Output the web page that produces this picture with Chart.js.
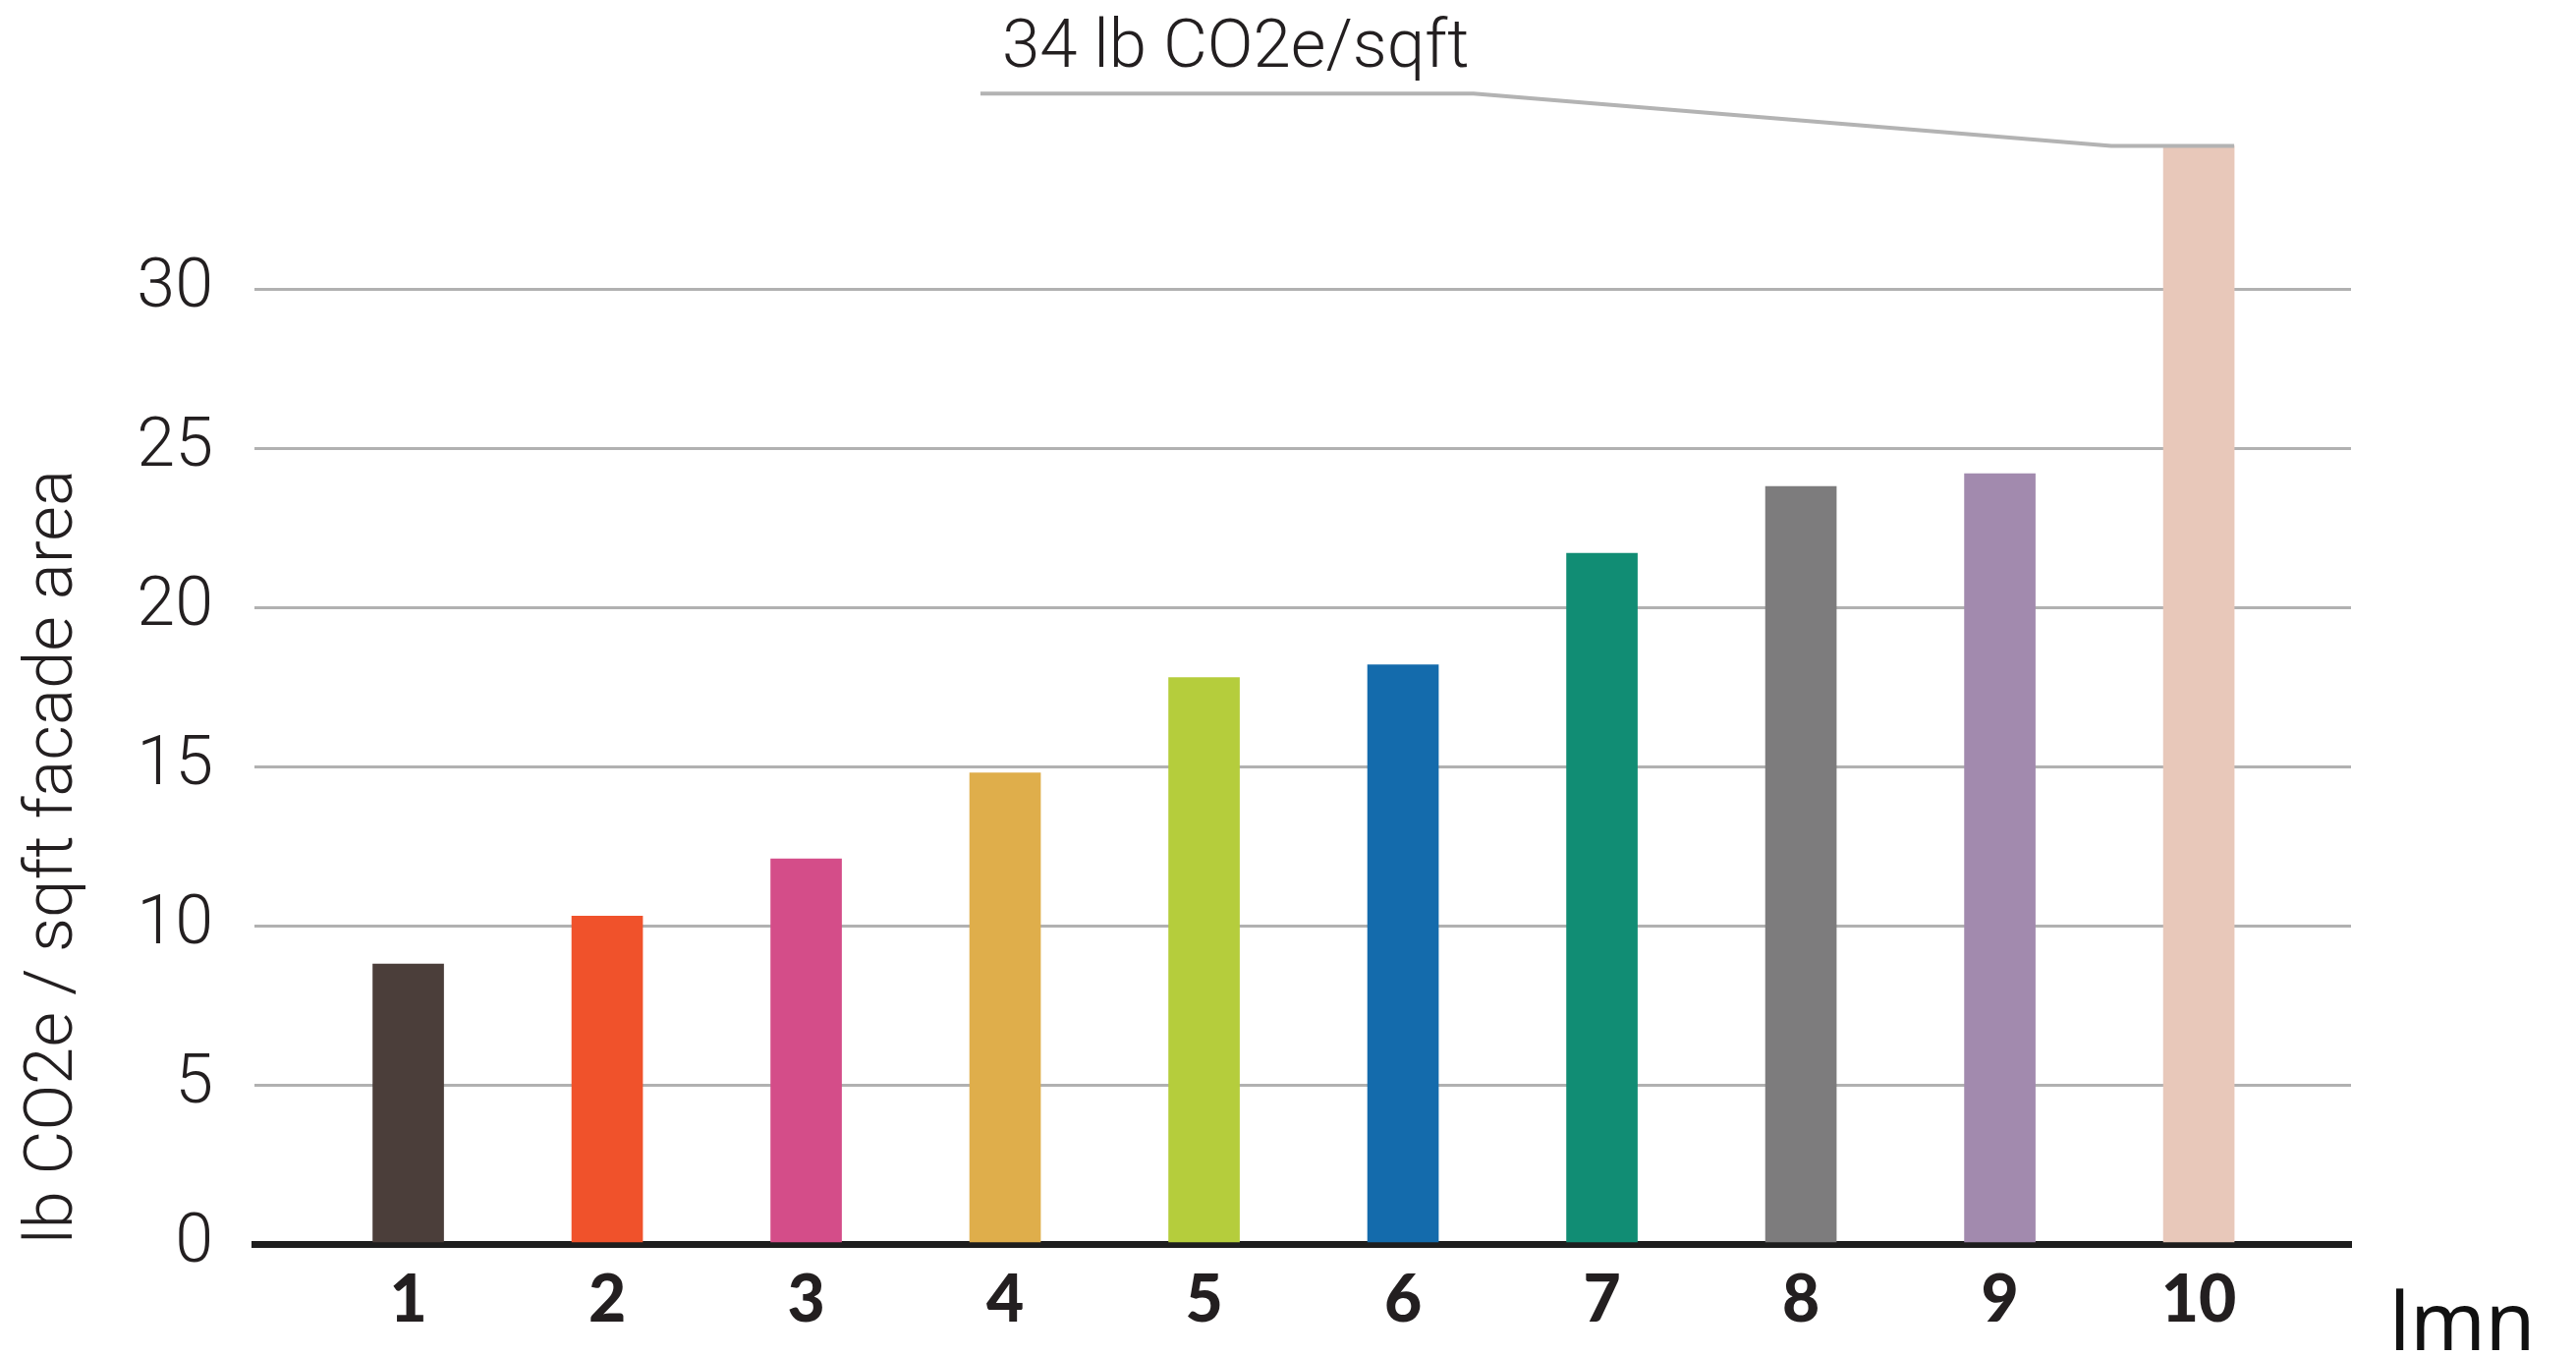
<!DOCTYPE html>
<html>
<head>
<meta charset="utf-8">
<script src="https://cdn.jsdelivr.net/npm/chart.js@4.4.1/dist/chart.umd.min.js"></script>
<style>
  html, body { margin: 0; padding: 0; background: #fff; }
  #wrap { width: 2622px; height: 1380px; }
</style>
</head>
<body>
<div id="wrap"><canvas id="chart" width="2622" height="1380"></canvas></div>
<script>
// data
const categories = ["1", "2", "3", "4", "5", "6", "7", "8", "9", "10"];
const values = [8.8, 10.3, 12.1, 14.8, 17.8, 18.2, 21.7, 23.8, 24.2, 34.5];
const barColors = ["#4b3e3a", "#f0522b", "#d44d89", "#dfae4b", "#b5cd3c",
                   "#146bac", "#118d74", "#7d7c7d", "#a28aae", "#e8c8ba"];
const yTicks = [0, 5, 10, 15, 20, 25, 30];
const yTitle = "lb CO2e / sqft facade area";
const calloutText = "34 lb CO2e/sqft";
const logoText = "lmn";

const ink = "#231f20";

// leader line + label pointing at the tallest bar, plus the logo
const callout = {
  id: "callout",
  afterDraw(chart) {
    const { ctx, scales: { x, y } } = chart;
    const last = values.length - 1;
    const top = y.getPixelForValue(values[last]);
    const barRight = x.getPixelForValue(last + 1) + 36;
    const lineY = y.getPixelForValue(36.15);

    ctx.save();
    ctx.strokeStyle = "#b3b3b3";
    ctx.lineWidth = 4;
    ctx.lineJoin = "round";
    ctx.beginPath();
    ctx.moveTo(x.getPixelForValue(3.876), lineY);
    ctx.lineTo(x.getPixelForValue(6.355), lineY);
    ctx.lineTo(x.getPixelForValue(9.56), top);
    ctx.lineTo(barRight, top);
    ctx.stroke();

    ctx.fillStyle = ink;
    ctx.font = "300 69px Roboto";
    ctx.textBaseline = "alphabetic";
    ctx.textAlign = "left";
    ctx.fillText(calloutText, x.getPixelForValue(3.985), y.getPixelForValue(37.0));

    ctx.fillStyle = "#111";
    ctx.font = "400 82px 'Noto Sans'";
    ctx.fillText(logoText, 2432, 1374);
    ctx.restore();
  }
};

new Chart(document.getElementById("chart"), {
  type: "bar",
  data: {
    datasets: [{
      data: values.map((v, i) => ({ x: i + 1, y: v })),
      backgroundColor: barColors,
      borderWidth: 0,
      barThickness: 72,
    }],
  },
  options: {
    responsive: false,
    animation: false,
    devicePixelRatio: 1,
    layout: { padding: { top: 100, right: 229, bottom: 0, left: 0 } },
    plugins: { legend: { display: false }, tooltip: { enabled: false } },
    scales: {
      x: {
        type: "linear",
        offset: false,
        z: -1,
        min: 0.227,
        max: 10.765,
        afterBuildTicks: s => { s.ticks = categories.map((c, i) => ({ value: i + 1 })); },
        afterFit: s => { s.height = 114; },
        grid: { display: false, drawTicks: false, offset: false },
        border: { display: true, color: "#1e1e1e", width: 7 },
        ticks: {
          padding: 18,
          color: ink,
          font: { family: "Lato", weight: "900", size: 66 },
          callback: v => categories[v - 1],
        },
      },
      y: {
        min: 0,
        max: 36,
        afterBuildTicks: s => { s.ticks = yTicks.map(v => ({ value: v })); },
        afterFit: s => { s.width = 259; },
        grid: {
          drawTicks: false,
          color: c => (c.tick && c.tick.value === 0) ? "#a8a8a8" : "#b1b1b1",
          lineWidth: c => (c.tick && c.tick.value === 0) ? 4 : 3,
        },
        border: { display: false },
        ticks: {
          padding: 42,
          color: ink,
          font: { family: "Roboto", weight: "300", size: 70 },
        },
        title: {
          display: true,
          text: yTitle,
          align: "start",
          color: ink,
          font: { family: "Roboto", weight: "300", size: 69 },
          padding: { top: 14, bottom: 0 },
        },
      },
    },
  },
  plugins: [callout],
});
</script>
</body>
</html>
